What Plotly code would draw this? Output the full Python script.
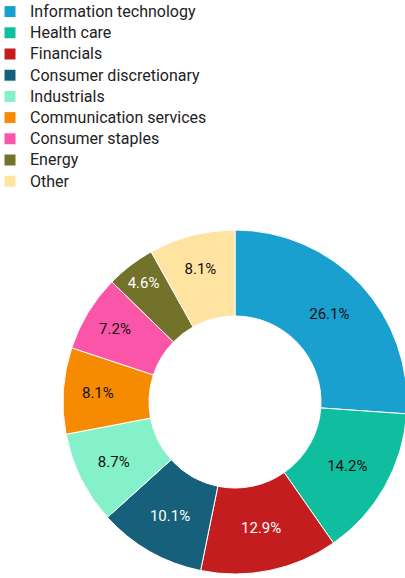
import plotly.graph_objects as go

sectors = ["Information technology", "Health care", "Financials", "Consumer discretionary",
           "Industrials", "Communication services", "Consumer staples", "Energy", "Other"]
weights = [26.1, 14.2, 12.9, 10.1, 8.7, 8.1, 7.2, 4.6, 8.1]
colors = ["#1aa0cf", "#0fbe9e", "#c41d1f", "#17607b", "#85f1ca", "#f68a00", "#fa55a8", "#73722b", "#fee3a1"]
text_colors = ["#111111", "#111111", "#ffffff", "#ffffff", "#111111", "#111111", "#111111", "#ffffff", "#111111"]
labels_txt = [f"{v:.1f}%" for v in weights]

# legend entries rendered slightly larger than the legend's line spacing font
legend_labels = [f"<span style='font-size:16px'>{s}</span>" for s in sectors]

W, H = 420, 578
cx, cy, r = 235, 402, 172

fig = go.Figure(go.Pie(
    labels=legend_labels,
    values=weights,
    text=labels_txt,
    customdata=sectors,
    hovertemplate="%{customdata}: %{text}<extra></extra>",
    textinfo="text",
    textposition="inside",
    insidetextorientation="horizontal",
    textfont=dict(family="Roboto", size=15, color=text_colors),
    marker=dict(colors=colors, line=dict(color="white", width=1)),
    hole=0.5,
    sort=False,
    direction="clockwise",
    rotation=0,
    domain=dict(x=[(cx - r) / W, (cx + r) / W], y=[max(0, (H - cy - r) / H), (H - cy + r) / H]),
))

fig.update_layout(
    width=W, height=H,
    margin=dict(l=0, r=0, t=0, b=0, autoexpand=False),
    paper_bgcolor="white",
    font=dict(family="Roboto", size=14, color="#222222"),
    legend=dict(x=-10 / W, y=1 + 4 / H, xanchor="left", yanchor="top",
                font=dict(family="Roboto", size=14, color="#222222"),
                traceorder="normal", itemclick=False),
    showlegend=True,
)

fig.write_html("out.html")
